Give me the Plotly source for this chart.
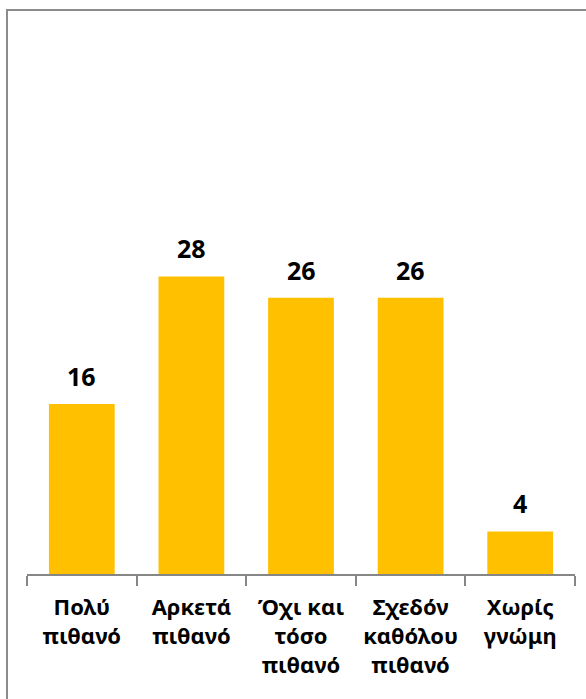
import plotly.graph_objects as go

categories = ["Πολύ<br>πιθανό", "Αρκετά<br>πιθανό", "Όχι και<br>τόσο<br>πιθανό",
              "Σχεδόν<br>καθόλου<br>πιθανό", "Χωρίς<br>γνώμη"]
values = [16, 28, 26, 26, 4]

bar_color = "#FFC000"
font_family = "Noto Sans"

fig = go.Figure()

fig.add_trace(go.Bar(
    x=categories,
    y=values,
    marker=dict(color=bar_color, line=dict(width=0)),
    hoverinfo="skip",
))

# value labels above bars
for c, v in zip(categories, values):
    fig.add_annotation(
        x=c, y=v, text=str(v),
        showarrow=False, yanchor="bottom", yshift=9,
        font=dict(family=font_family, size=25, color="black", weight="bold"),
    )

# outer frame of the original chart box
fig.add_shape(
    type="rect", xref="paper", yref="paper",
    x0=-0.0365, x1=1.1, y0=-0.5, y1=1.516,
    line=dict(color="#8c8c8c", width=2), layer="below",
)

fig.update_layout(
    width=586, height=699,
    margin=dict(l=27, r=11, t=202, b=125, autoexpand=False),
    paper_bgcolor="white",
    plot_bgcolor="white",
    bargap=0.4,
    showlegend=False,
    font=dict(family=font_family, color="black"),
)

fig.update_xaxes(
    showline=True, linecolor="#868686", linewidth=2,
    ticks="outside", ticklen=10, tickcolor="#868686", tickwidth=2,
    tickson="boundaries", ticklabelstandoff=13,
    tickfont=dict(family=font_family, size=22, color="black", weight="bold"),
    showgrid=False,
)

fig.update_yaxes(
    range=[0, 35], visible=False, showgrid=False,
)

fig.write_html(
    "out.html",
    config={"displayModeBar": False},
    post_script="document.body.style.margin='0';document.body.style.overflow='hidden';",
)
